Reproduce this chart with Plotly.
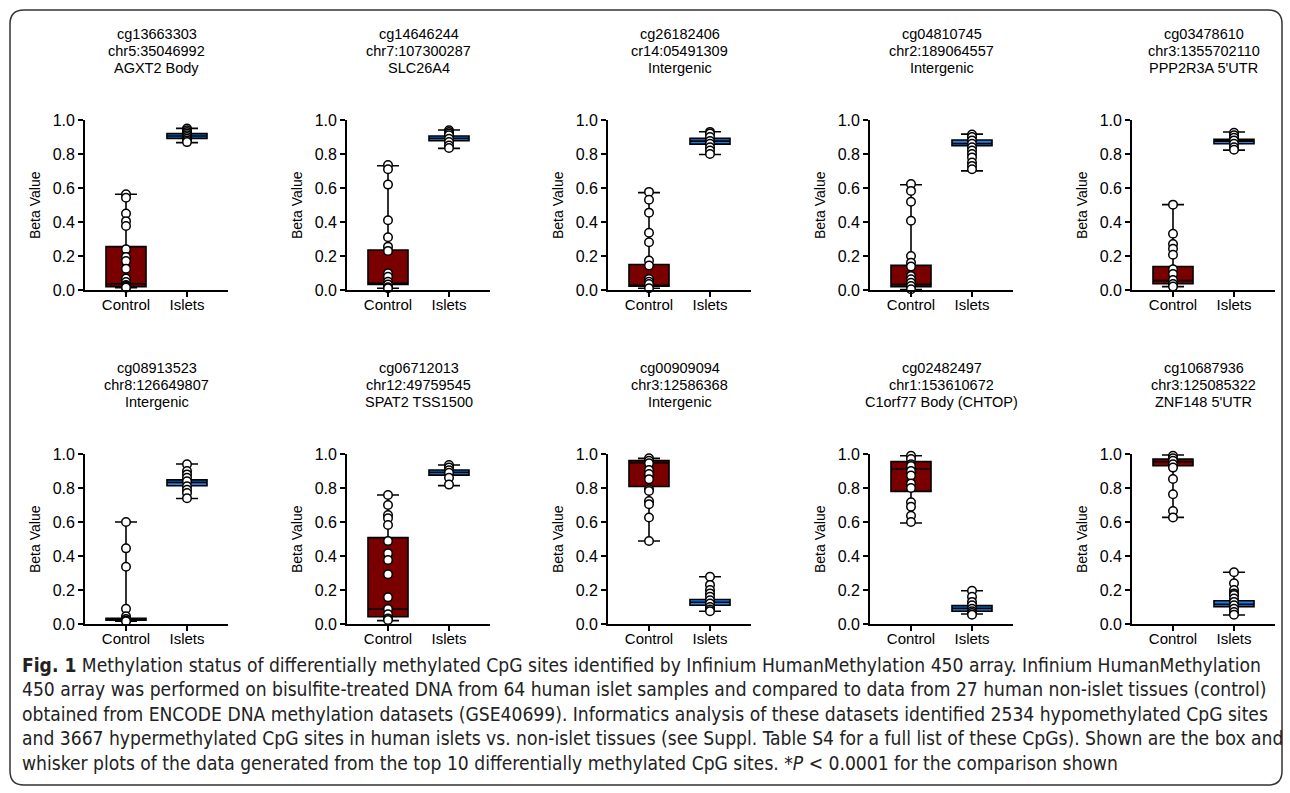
import plotly.graph_objects as go

W, H = 1290, 793

titles = [
    ("cg13663303", "chr5:35046992", "AGXT2 Body"),
    ("cg14646244", "chr7:107300287", "SLC26A4"),
    ("cg26182406", "cr14:05491309", "Intergenic"),
    ("cg04810745", "chr2:189064557", "Intergenic"),
    ("cg03478610", "chr3:1355702110", "PPP2R3A 5'UTR"),
    ("cg08913523", "chr8:126649807", "Intergenic"),
    ("cg06712013", "chr12:49759545", "SPAT2 TSS1500"),
    ("cg00909094", "chr3:12586368", "Intergenic"),
    ("cg02482497", "chr1:153610672", "C1orf77 Body (CHTOP)"),
    ("cg10687936", "chr3:125085322", "ZNF148 5'UTR"),
]

categories = ["Control", "Islets"]

# box statistics [lower whisker, q1, median, q3, upper whisker]
ctrl_box = [
    [0.014, 0.020, 0.037, 0.255, 0.563],
    [0.010, 0.033, 0.039, 0.235, 0.731],
    [0.010, 0.022, 0.026, 0.150, 0.573],
    [0.003, 0.020, 0.033, 0.145, 0.619],
    [0.020, 0.037, 0.055, 0.138, 0.502],
    [0.016, 0.022, 0.028, 0.034, 0.600],
    [0.020, 0.043, 0.088, 0.508, 0.759],
    [0.488, 0.809, 0.947, 0.961, 0.974],
    [0.594, 0.780, 0.912, 0.955, 0.990],
    [0.627, 0.931, 0.955, 0.971, 0.994],
]
isl_box = [
    [0.867, 0.892, 0.906, 0.920, 0.951],
    [0.833, 0.878, 0.892, 0.906, 0.941],
    [0.797, 0.858, 0.876, 0.892, 0.931],
    [0.701, 0.849, 0.862, 0.882, 0.917],
    [0.823, 0.860, 0.876, 0.886, 0.929],
    [0.738, 0.813, 0.833, 0.848, 0.941],
    [0.814, 0.876, 0.892, 0.906, 0.935],
    [0.075, 0.110, 0.128, 0.144, 0.278],
    [0.059, 0.075, 0.092, 0.108, 0.196],
    [0.053, 0.102, 0.116, 0.137, 0.304],
]

ctrl_pts = [
    [0.563, 0.543, 0.45, 0.405, 0.376, 0.24, 0.194, 0.17, 0.125, 0.067, 0.047, 0.03, 0.024, 0.018, 0.014],
    [0.735, 0.71, 0.62, 0.41, 0.31, 0.255, 0.23, 0.098, 0.078, 0.049, 0.033, 0.016, 0.01],
    [0.577, 0.531, 0.455, 0.337, 0.281, 0.173, 0.144, 0.065, 0.049, 0.035, 0.01],
    [0.623, 0.583, 0.519, 0.407, 0.2, 0.161, 0.138, 0.083, 0.063, 0.043, 0.024, 0.004],
    [0.502, 0.331, 0.27, 0.242, 0.207, 0.122, 0.094, 0.059, 0.035, 0.02],
    [0.60, 0.445, 0.337, 0.089, 0.045, 0.03, 0.02, 0.016],
    [0.759, 0.70, 0.641, 0.622, 0.582, 0.488, 0.416, 0.376, 0.292, 0.157, 0.088, 0.057, 0.033, 0.024],
    [0.975, 0.96, 0.945, 0.906, 0.882, 0.852, 0.793, 0.783, 0.724, 0.705, 0.626, 0.488],
    [0.99, 0.97, 0.94, 0.93, 0.90, 0.873, 0.827, 0.80, 0.716, 0.69, 0.637, 0.60],
    [0.99, 0.975, 0.96, 0.94, 0.92, 0.853, 0.763, 0.665, 0.627],
]
isl_pts = [
    [0.95, 0.94, 0.93, 0.92, 0.91, 0.90, 0.89, 0.88, 0.87],
    [0.94, 0.93, 0.92, 0.91, 0.89, 0.87, 0.85, 0.835],
    [0.93, 0.92, 0.90, 0.876, 0.86, 0.84, 0.82, 0.80],
    [0.915, 0.90, 0.88, 0.86, 0.84, 0.82, 0.80, 0.78, 0.75, 0.73, 0.71],
    [0.925, 0.91, 0.895, 0.88, 0.86, 0.84, 0.825],
    [0.94, 0.90, 0.88, 0.86, 0.84, 0.81, 0.79, 0.77, 0.74],
    [0.935, 0.92, 0.905, 0.89, 0.86, 0.82],
    [0.278, 0.23, 0.20, 0.18, 0.16, 0.14, 0.12, 0.10, 0.085, 0.075],
    [0.196, 0.16, 0.13, 0.11, 0.09, 0.075, 0.065, 0.055],
    [0.304, 0.24, 0.20, 0.18, 0.17, 0.15, 0.13, 0.11, 0.09, 0.07, 0.055],
]

y_ticks = [0.0, 0.2, 0.4, 0.6, 0.8, 1.0]

caption_lines = [
    "<b>Fig. 1</b> Methylation status of differentially methylated CpG sites identified by Infinium HumanMethylation 450 array. Infinium HumanMethylation",
    "450 array was performed on bisulfite-treated DNA from 64 human islet samples and compared to data from 27 human non-islet tissues (control)",
    "obtained from ENCODE DNA methylation datasets (GSE40699). Informatics analysis of these datasets identified 2534 hypomethylated CpG sites",
    "and 3667 hypermethylated CpG sites in human islets vs. non-islet tissues (see Suppl. Table S4 for a full list of these CpGs). Shown are the box and",
    "whisker plots of the data generated from the top 10 differentially methylated CpG sites. *<i>P</i> &lt; 0.0001 for the comparison shown",
]

# ---------------- layout geometry (pixels) ----------------
col_x0 = [85, 347, 608, 870, 1132]
ax_w = 143
row_top = [120, 454]
row_bot = [290, 624]
title_y = [[34, 51, 68], [368, 385, 402]]
caption_y = [665, 689.5, 714, 738.5, 763]

CTRL_COLOR = "#7a0000"
ISL_COLOR = "#1c80e6"
FONT = "Liberation Sans, Arial, sans-serif"
CAP_FONT = "DejaVu Sans Condensed, Liberation Sans Narrow, Liberation Sans, sans-serif"

def px(x):
    return x / W

def py(y):
    return 1 - y / H

fig = go.Figure()
annotations = []
layout_axes = {}

for i in range(10):
    r, c = divmod(i, 5)
    n = i + 1
    xa = "x" if n == 1 else f"x{n}"
    ya = "y" if n == 1 else f"y{n}"
    xkey = "xaxis" if n == 1 else f"xaxis{n}"
    ykey = "yaxis" if n == 1 else f"yaxis{n}"

    for pos, stats, col in ((0, ctrl_box[i], CTRL_COLOR), (1, isl_box[i], ISL_COLOR)):
        lo, q1, med, q3, hi = stats
        fig.add_trace(go.Box(
            x=[pos], q1=[q1], median=[med], q3=[q3], lowerfence=[lo], upperfence=[hi],
            width=0.656, whiskerwidth=0.55, fillcolor=col,
            line=dict(color="black", width=1.6), boxpoints=False,
            xaxis=xa, yaxis=ya, showlegend=False, hoverinfo="skip",
        ))
    for pos, pts in ((0, ctrl_pts[i]), (1, isl_pts[i])):
        fig.add_trace(go.Scatter(
            x=[pos] * len(pts), y=pts, mode="markers", cliponaxis=False,
            marker=dict(size=8.5, color="white", line=dict(color="black", width=1.5)),
            xaxis=xa, yaxis=ya, showlegend=False, hoverinfo="skip",
        ))
    # significance bracket
    fig.add_trace(go.Scatter(
        x=[0, 0, 1, 1], y=[1.012, 1.037, 1.037, 1.012], mode="lines", cliponaxis=False,
        line=dict(color="black", width=2), xaxis=xa, yaxis=ya,
        showlegend=False, hoverinfo="skip",
    ))
    annotations.append(dict(x=0.5, y=1.075, xref=xa, yref=ya, text="*", showarrow=False,
                            xanchor="center", yanchor="bottom",
                            font=dict(size=18, color="black", family=FONT)))

    x0, x1 = col_x0[c], col_x0[c] + ax_w
    layout_axes[xkey] = dict(
        domain=[px(x0), px(x1)], range=[-0.672, 1.672], anchor=ya,
        tickvals=[0, 1], ticktext=categories, ticks="outside", ticklen=5, tickwidth=1.8,
        ticklabelstandoff=-5,
        tickcolor="black", showline=True, linecolor="black", linewidth=1.8,
        showgrid=False, zeroline=False, fixedrange=True, automargin=False,
        tickfont=dict(size=15, color="black", family=FONT),
    )
    layout_axes[ykey] = dict(
        domain=[py(row_bot[r]), py(row_top[r])], range=[0, 1], anchor=xa,
        tickvals=y_ticks, tickformat=".1f", ticks="outside", ticklen=5, tickwidth=1.8,
        tickcolor="black", showline=True, linecolor="black", linewidth=1.8,
        showgrid=False, zeroline=False, fixedrange=True, automargin=False,
        tickfont=dict(size=16, color="black", family=FONT),
    )
    # y-axis title
    annotations.append(dict(x=px(x0 - 50), y=py((row_top[r] + row_bot[r]) / 2),
                            xref="paper", yref="paper", text="Beta Value", textangle=-90,
                            xanchor="center", yanchor="middle",
                            showarrow=False, font=dict(size=14, color="black", family=FONT)))
    # panel titles
    for k, line in enumerate(titles[i]):
        annotations.append(dict(x=px(x0 + ax_w / 2), y=py(title_y[r][k]), xref="paper", yref="paper",
                                text=line, showarrow=False, xanchor="center", yanchor="middle",
                                font=dict(size=14.5, color="black", family=FONT)))

for k, line in enumerate(caption_lines):
    annotations.append(dict(x=px(20), y=py(caption_y[k]), xref="paper", yref="paper",
                            text=line, showarrow=False, xanchor="left", yanchor="middle",
                            font=dict(size=19.1, color="#222222", family=CAP_FONT)))

# rounded frame
L, T, R, B, rad = 10, 10, 1282, 785, 14
path = (f"M {px(L+rad)},{py(T)} L {px(R-rad)},{py(T)} Q {px(R)},{py(T)} {px(R)},{py(T+rad)} "
        f"L {px(R)},{py(B-rad)} Q {px(R)},{py(B)} {px(R-rad)},{py(B)} "
        f"L {px(L+rad)},{py(B)} Q {px(L)},{py(B)} {px(L)},{py(B-rad)} "
        f"L {px(L)},{py(T+rad)} Q {px(L)},{py(T)} {px(L+rad)},{py(T)} Z")

fig.update_layout(
    width=W, height=H, margin=dict(l=0, r=0, t=0, b=0, autoexpand=False),
    paper_bgcolor="white", plot_bgcolor="white",
    annotations=annotations,
    shapes=[dict(type="path", path=path, xref="paper", yref="paper",
                 line=dict(color="#333333", width=1.5), fillcolor="rgba(0,0,0,0)")],
    **layout_axes,
)

fig.write_html("out.html", config={"displayModeBar": False})
